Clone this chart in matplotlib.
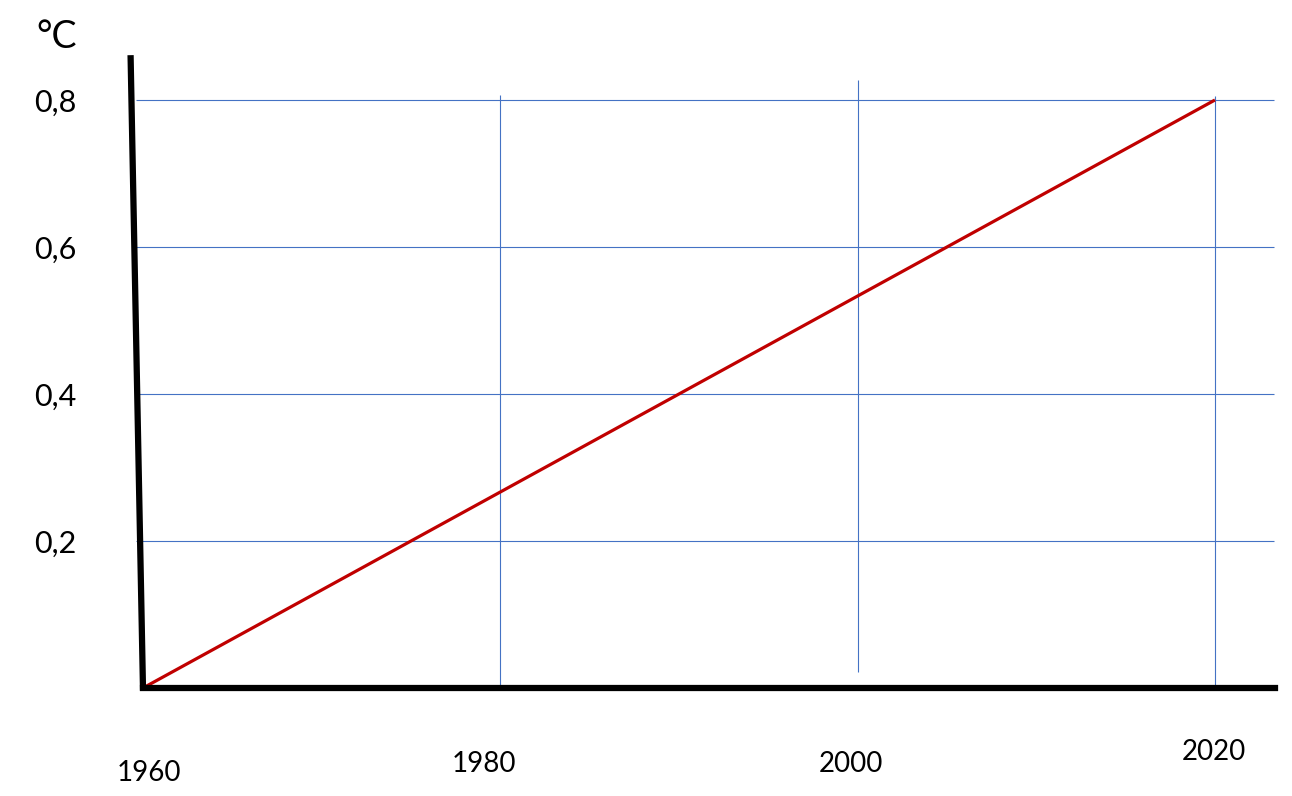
import matplotlib.pyplot as plt

years = [1960, 2020]
temps = [0.0, 0.8]

x_ticks = [1960, 1980, 2000, 2020]
x_labels = ['1960', '1980', '2000', '2020']
y_ticks = [0.2, 0.4, 0.6, 0.8]
y_labels = ['0,2', '0,4', '0,6', '0,8']

plt.rcParams['font.family'] = ['Lato', 'DejaVu Sans']

fig = plt.figure(figsize=(12.92, 7.96), dpi=100)
ax = fig.add_axes([0.1107, 0.1357, 0.876, 0.795])
ax.set_xlim(1960, 2023.35)
ax.set_ylim(0, 0.861)

# hand drawn style grid
grid_col = '#4472C4'
for y in y_ticks:
    ax.hlines(y, 1959.6, 2023.3, color=grid_col, lw=0.8, zorder=1, clip_on=False)
grid_top = {1980: 0.807, 2000: 0.827, 2020: 0.805}
grid_bot = {1980: 0.0, 2000: 0.022, 2020: 0.0}
for x in x_ticks[1:]:
    ax.vlines(x, grid_bot[x], grid_top[x], color=grid_col, lw=0.8, zorder=1)

ax.plot(years, temps, color='#C00000', lw=2.3, zorder=3, solid_capstyle='butt')

for side in ['top', 'right', 'left']:
    ax.spines[side].set_visible(False)
ax.spines['bottom'].set_linewidth(4.5)
ax.spines['bottom'].set_color('black')
ax.spines['bottom'].set_zorder(4)
# left axis is drawn a bit slanted, as in the sketch
ax.plot([-0.011, 0.0], [1.0, -0.004], transform=ax.transAxes, color='black',
        lw=4.5, zorder=4, clip_on=False, solid_capstyle='butt')

ax.set_yticks(y_ticks)
ax.set_yticklabels(y_labels, fontsize=22)
ax.tick_params(axis='y', length=0, pad=48)
ax.set_xticks([])

# x labels sit at uneven heights, like in the drawing
offsets = [(4, -61), (-12, -55), (-5, -55), (-1, -46)]
for x, lab, (dx, dy) in zip(x_ticks, x_labels, offsets):
    ax.annotate(lab, (x, 0), xytext=(dx, dy), textcoords='offset points',
                ha='center', va='center', fontsize=20, annotation_clip=False)

fig.text(57 / 1292, 1 - 37 / 796, '°C', fontsize=27, ha='center', va='center')

fig.savefig('out.png', dpi=100, facecolor='white')
